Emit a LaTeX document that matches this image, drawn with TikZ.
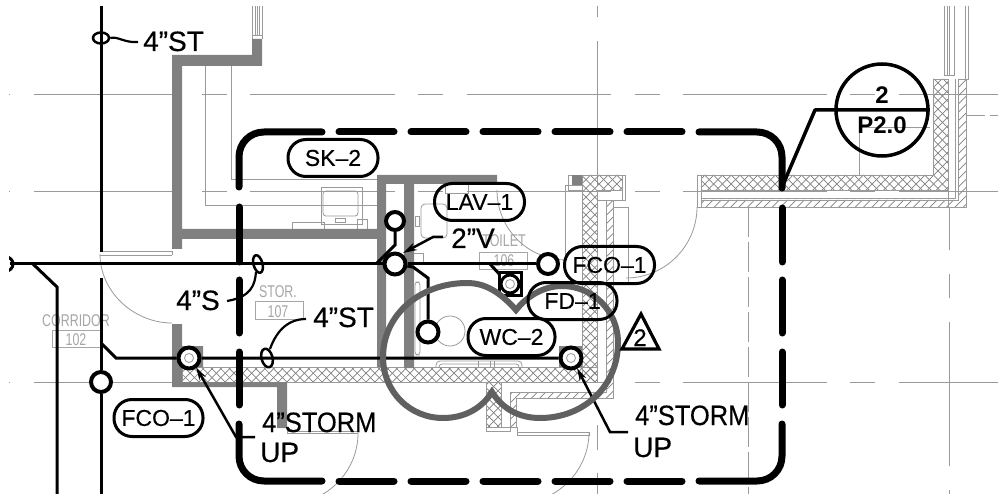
\documentclass[tikz,border=0pt]{standalone}
\usepackage{fontspec}
\setmainfont{Liberation Sans}
\newfontfamily\cadfont[FakeBold=0.35]{Liberation Sans}
\usetikzlibrary{arrows.meta,shapes.geometric}
\definecolor{wallgray}{HTML}{808080}
\definecolor{thingray}{HTML}{9A9A9A}
\definecolor{cloudgray}{HTML}{606060}
\definecolor{labelgray}{HTML}{A6A6A6}
\tikzset{
  thinline/.style={draw=thingray,line width=.8pt},
  hatchline/.style={draw=wallgray,line width=.7pt},
  gridline/.style={draw=thingray,line width=.9pt},
  wall/.style={fill=wallgray,draw=none},
  pipe/.style={draw=black,line width=3pt},
  revline/.style={draw=black,line width=7pt,line cap=round},
  pill/.style={draw=black,line width=3pt,rounded corners=18pt,minimum height=37pt,inner sep=0pt,font=\cadfont\fontsize{23}{23}\selectfont},
  ring/.style={circle,draw=black,line width=4pt,fill=white,inner sep=0pt,minimum size=18pt},
  oval/.style={ellipse,draw=black,line width=2.5pt,inner sep=0pt},
  note/.style={anchor=base west,inner sep=0pt,font=\cadfont\fontsize{28}{28}\selectfont},
  ghost/.style={anchor=base,inner sep=0pt,text=labelgray,transform shape,xscale=.73,font=\fontsize{17}{17}\selectfont},
  ghostbox/.style={draw=labelgray,line width=.8pt}
}
\newcommand{\gridH}[1]{%
  \draw[gridline] (9,#1) -- (10,#1) (34,#1) -- (178,#1) (202,#1) -- (227,#1) (250,#1) -- (395,#1)
    (418,#1) -- (443,#1) (467,#1) -- (611,#1) (635,#1) -- (660,#1) (683,#1) -- (827,#1)
    (850,#1) -- (875,#1) (899,#1) -- (998,#1);}
% cross hatching inside a closed outline, spaced as in the drawing
\newcommand{\crossfill}[1]{%
  \begin{scope}\clip #1;
  \foreach \i in {0,1,...,170}{
    \draw[hatchline] ({\i*8.8-500},0) -- ({\i*8.8},500);
    \draw[hatchline] ({\i*8.8-500},500) -- ({\i*8.8},0);}
  \end{scope}
  \draw[thinline] #1;}
\newcommand{\slashfill}[1]{%
  \begin{scope}\clip #1;
  \foreach \i in {0,1,...,180}{
    \draw[hatchline] ({\i*8.3-500},500) -- ({\i*8.3},0);}
  \end{scope}
  \draw[thinline] #1;}
\begin{document}
\begin{tikzpicture}[x=1pt,y=-1pt]
\useasboundingbox (0,0) rectangle (998,494);
\fill[white] (0,0) rectangle (998,494);
\clip (9,6) rectangle (998,494);
% grid
\gridH{94}\gridH{191}\gridH{382}
\draw[gridline] (597,6) -- (597,17) (597,41) -- (597,185) (597,209) -- (597,234) (597,425) -- (597,450) (597,473) -- (597,494);
\draw[gridline] (949,207) -- (949,250) (949,274) -- (949,298) (949,322) -- (949,466) (949,490) -- (949,494);
\draw[gridline,dash pattern=on 30pt off 5pt] (748,207) -- (748,494);
% thin architecture left
\draw[thinline] (205,66) -- (205,205) -- (377,205);
\draw[thinline] (231,66) -- (231,179) -- (377,179);
\draw[thinline] (252,6) -- (252,39) (255,6) -- (255,35) (257,6) -- (257,35) (259,6) -- (259,35) (262,6) -- (262,39) (252,35) -- (262,35);
% computer
\draw[thinline] (321,187) rectangle (362,224);
\draw[thinline,rounded corners=3pt] (323,191) rectangle (358,216);
\draw[thinline] (335,218) rectangle (345,222);
\draw[thinline] (292,229) -- (292,222) -- (324,222) -- (324,229);
\draw[thinline] (357,229) -- (357,219) -- (367,219) -- (367,229);
% doors
\draw[thinline] (100,254) .. controls (100,292) and (134,323) .. (172,323);
\draw[thinline] (100,251) -- (172,251) (100,255) -- (172,255) (172,251) -- (172,255);
\draw[thinline] (358,433) .. controls (358,472) and (326,504) .. (287,504);
\draw[thinline] (287,428) -- (287,433) -- (358,433) (287,431) -- (358,431);
\draw[thinline] (589,432) .. controls (589,471) and (557,503) .. (518,503);
\draw[thinline] (517,427) -- (517,435) -- (589,435) -- (589,432) -- (517,432);
\draw[thinline] (497,190) .. controls (497,229) and (528,260) .. (567,260);
\draw[thinline] (697,207) .. controls (697,246) and (665,278) .. (626,278);
% lavatory fixtures
\draw[thinline,rounded corners=4pt] (421,204) rectangle (447,238);
\draw[thinline] (415,216) rectangle (419,226);
\draw[thinline] (413,253) rectangle (423,262);
\draw[thinline,rounded corners=3pt] (415,282) rectangle (420,355);
\draw[thinline] (445,183) rectangle (468,193);
\draw[thinline] (450,331) circle[radius=15];
\draw[thinline,rounded corners=4pt] (436,367) -- (436,361) -- (522,361) -- (522,367);
\draw[thinline,rounded corners=3pt] (439,367) -- (439,364) -- (519,364) -- (519,367);
\draw[thinline] (478,361) -- (478,367) (490,361) -- (490,367) (494,361) -- (494,367);
% room labels
\draw[ghostbox] (255,301) rectangle (303,319);
\node[ghost] (stor) at (278,297) {STOR.};
\node[ghost] (n107) at (278,317) {107};
\draw[ghostbox] (52,330) rectangle (100,347);
\node[ghost] (corr) at (76,326) {CORRIDOR};
\node[ghost] (n102) at (76,345) {102};
\draw[ghostbox] (479,252) rectangle (527,269);
\node[ghost] (toilet) at (504,247) {TOILET};
\node[ghost] (n106) at (504,267) {106};
% hatched walls
\crossfill{(182,367) rectangle (597,382)}
\crossfill{(486,382) rectangle (501,427)}
\draw[thinline] (486,427) rectangle (510,431);
\draw[thinline] (501,382) -- (501,427) (510,392) -- (510,427);
\slashfill{(510,427) -- (510,392) -- (606,392) -- (606,200) -- (613,200) -- (613,398) -- (516,398) -- (516,427) -- cycle}
\draw[thinline] (597,382) -- (606,382);
\crossfill{(582,382) -- (582,175) -- (622,175) -- (622,190) -- (597,190) -- (597,382) -- cycle}
\draw[thinline] (568,175) -- (625,175) -- (625,200) -- (597,200);
\draw[thinline] (568,175) -- (568,190) (565,185) -- (582,185) (565,185) -- (565,260) (582,190) -- (568,190);
\draw[thinline] (613,207) -- (628,207) -- (628,283) (613,283) -- (628,283);
\draw[thinline] (622,190) -- (622,200);
\fill[wallgray] (572,175) rectangle (582,185);
\crossfill{(701,175) -- (933,175) -- (933,79) -- (948,79) -- (948,190) -- (701,190) -- cycle}
\slashfill{(701,200) -- (958,200) -- (958,79) -- (966,79) -- (966,207) -- (701,207) -- cycle}
\draw[thinline] (697,175) -- (701,175) (697,175) -- (697,207) -- (701,207) (701,175) -- (701,207) (701,198) -- (955,198) -- (955,79);
\draw[thinline] (948,190) -- (948,207);
\draw[thinline] (859,127) -- (859,175) (859,127) -- (930,127);
\draw[thinline] (966,115) -- (985,115) (990,115) -- (998,115);
\draw[thinline] (944,6) -- (944,75) -- (954,75) -- (954,6) (947,6) -- (947,75) (949,6) -- (949,75);
\draw[thinline] (965,6) -- (965,79) -- (968,79) -- (968,6);
% gray walls
\fill[wall] (252,39) -- (262,39) -- (262,66) -- (182,66) -- (182,229) -- (377,229) -- (377,175) -- (497,175) -- (497,184) -- (414,184) -- (414,368) -- (404,368) -- (404,184) -- (386,184) -- (386,367) -- (377,367) -- (377,239) -- (182,239) -- (182,249) -- (172,249) -- (172,55) -- (252,55) -- cycle;
\fill[wall] (172,324) -- (182,324) -- (182,346) -- (203,346) -- (203,367) -- (182,367) -- (182,382) -- (287,382) -- (287,428) -- (277,428) -- (277,387) -- (172,387) -- cycle;
\fill[wall] (559,346) rectangle (582,367);
% dashed boundary
\foreach \a/\b in {339/394,411/466,483/538,555/610,627/682}{
  \draw[revline] (\a,132) -- (\b,132);
  \draw[revline] (\a,481) -- (\b,481);}
\foreach \a/\b in {280/333,352/405}{
  \draw[revline] (239,\a) -- (239,\b);
  \draw[revline] (782,\a) -- (782,\b);}
\draw[revline] (239,187) -- (239,157) .. controls (239,143) and (250,132) .. (264,132) -- (322,132);
\draw[revline] (239,207) -- (239,262);
\draw[revline] (782,208) -- (782,262);
\draw[revline] (239,424) -- (239,456) .. controls (239,470) and (250,481) .. (264,481) -- (322,481);
\draw[revline] (699,132) -- (757,132) .. controls (771,132) and (782,143) .. (782,157) -- (782,188);
\draw[revline] (699,481) -- (757,481) .. controls (771,481) and (782,470) .. (782,456) -- (782,424);
% pipes and rings
\coordinate (t0) at (101,6); \coordinate (t1) at (101,252); \coordinate (t2) at (101,278); \coordinate (t3) at (101,494);
\node[ring,minimum size=20pt] (cleft) at (101,382) {};
\draw[pipe] (t0) -- (t1);
\draw[pipe] (t2) -- (cleft) -- (t3);
\node[ring] (cv) at (395,221) {};
\node[ring,minimum size=21pt] (cj) at (395,264) {};
\node[ring,minimum size=21pt] (cwc) at (428,332) {};
\node[ring,minimum size=20pt] (cfco) at (548,264) {};
\node[ring,minimum size=21pt] (cl) at (189,358) {};
\node[ring,minimum size=21pt] (cr) at (571,358) {};
\coordinate (w0) at (10,264);
\coordinate (wb) at (33,264); \coordinate (wc) at (57,287); \coordinate (wd) at (57,494);
\draw[pipe] (w0) -- (cj) -- (cfco);
\draw[pipe] (wb) -- (wc) -- (wd);
\draw[line width=3pt] (6,264) circle[radius=7];
\coordinate (s0) at (101,343); \coordinate (s1) at (116,358);
\draw[pipe] (s0) -- (s1) -- (cl) -- (cr);
\draw[pipe] (cv) -- (395,245) -- (377,263);
\draw[pipe] (cj) -- (413,267) -- (428,278) -- (cwc);
\draw[thinline] (189,358) circle[radius=4.5];
\draw[thinline] (571,358) circle[radius=4.5];
% floor drain
\draw[pipe] (490,264) -- (502,277);
\draw[line width=3pt,fill=white] (499,273) rectangle (521,295);
\draw[line width=3pt] (510,284) circle[radius=9];
\draw[thinline] (510,284) circle[radius=4.5];
% leader lines
\draw[line width=2.5pt,{Stealth[length=13pt,width=7pt]}-] (196,367) -- (236,437) -- (255,437);
\draw[line width=2.5pt,{Stealth[length=13pt,width=7pt]}-] (577,368) -- (610,432) -- (628,432);
\draw[line width=2.5pt,-{Stealth[length=14pt,width=8pt]}] (443,237) -- (433,237) -- (403,253);
% ovals
\node[oval,minimum width=16pt,minimum height=11pt] (o1) at (101,38) {};
\node[oval,minimum width=18pt,minimum height=9pt,rotate=-75] (o2) at (258,264) {};
\node[oval,minimum width=19pt,minimum height=11pt,rotate=-75] (o3) at (267,358) {};
\draw[line width=2.2pt] (o1.east) .. controls (118,36) and (124,43) .. (138,42);
\draw[line width=2.2pt] (256,272) .. controls (255,285) and (251,297) .. (227,301);
\draw[line width=2.2pt] (270,349) .. controls (275,335) and (285,319) .. (306,319);
% revision cloud
\draw[cloudgray,line width=6pt,line join=miter] (516,310) .. controls (500,292) and (485,283) .. (467,283)
  .. controls (420,283) and (383,315) .. (383,357) .. controls (383,392) and (410,418) .. (443,418)
  .. controls (465,418) and (482,408) .. (492,392) .. controls (502,408) and (518,418) .. (540,418)
  .. controls (585,418) and (618,385) .. (618,343) .. controls (618,310) and (592,286) .. (562,286)
  .. controls (545,286) and (528,295) .. (516,310) -- cycle;
% tags
\node[pill,minimum width=90pt] (sk) at (333,158) {SK–2};
\node[pill,minimum width=90pt] (lav) at (479.5,202) {LAV–1};
\node[pill,minimum width=90pt] (fco2) at (609.5,265) {FCO–1};
\node[pill,minimum width=89pt] (fd) at (572.5,301) {FD–1};
\node[pill,minimum width=87pt,fill=white] (wc) at (511.5,337) {WC–2};
\node[pill,minimum width=89pt] (fco1) at (158.5,418) {FCO–1};
% notes
\node[note] (a1) at (143,51) {4”ST};
\node[note] (a2) at (313,327) {4”ST};
\node[note] (a3) at (176,310) {4”S};
\node[note] (a4) at (451,248) {2”V};
\node[note,transform shape,xscale=.91] (a5) at (262,432) {4”STORM};
\node[note] (a6) at (260,462) {UP};
\node[note,transform shape,xscale=.91] (a7) at (635,425) {4”STORM};
\node[note] (a8) at (633,457) {UP};
% revision triangle
\draw[line width=3.2pt,line join=miter] (641,314) -- (659,349) -- (622,349) -- cycle;
\node[anchor=base,inner sep=0pt,font=\cadfont\fontsize{24}{24}\selectfont] (tn) at (640,346) {2};
% section bubble
\node[circle,draw=black,line width=3.5pt,minimum size=92pt,inner sep=0pt] (sec) at (882,110) {};
\node[anchor=base,inner sep=0pt,font=\bfseries\fontsize{24}{24}\selectfont] (s2) at (882,104) {2};
\node[anchor=base,inner sep=0pt,font=\bfseries\fontsize{24}{24}\selectfont] (sp) at (882,134) {P2.0};
\coordinate (tip) at (782,187); \coordinate (kn) at (815,110);
\draw[line width=3.5pt,line join=round] (tip) -- (kn) -- (sec.east);
\end{tikzpicture}
\end{document}
